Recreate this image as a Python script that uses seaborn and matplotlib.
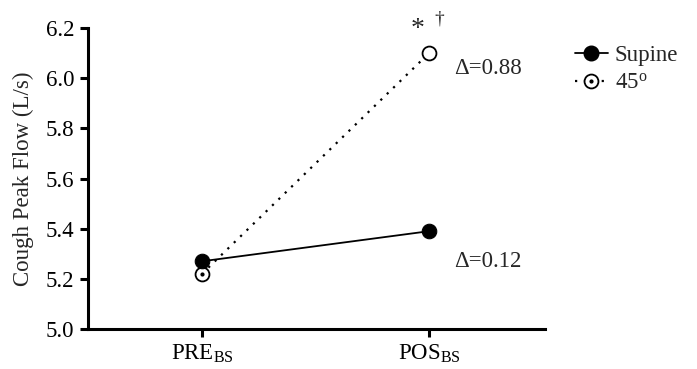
import matplotlib
matplotlib.use("Agg")
import matplotlib.pyplot as plt
from matplotlib.lines import Line2D
import seaborn as sns
import pandas as pd

timepoints = ["PRE", "POS"]
tick_labels = ["PRE$_{\\mathrm{BS}}$", "POS$_{\\mathrm{BS}}$"]
supine = [5.27, 5.39]
deg45 = [5.22, 6.10]
delta_labels = ["\u0394=0.12", "\u0394=0.88"]
y_ticks = [5.0, 5.2, 5.4, 5.6, 5.8, 6.0, 6.2]

sns.set_theme(style="ticks")
plt.rcParams["font.family"] = ["Liberation Serif", "DejaVu Serif"]
plt.rcParams["mathtext.fontset"] = "custom"
plt.rcParams["mathtext.rm"] = "Liberation Serif"
plt.rcParams["mathtext.it"] = "Liberation Serif:italic"

FS = 16.5

df = pd.DataFrame({
    "x": list(range(len(timepoints))) * 2,
    "value": supine + deg45,
    "group": ["Supine"] * len(supine) + ["45"] * len(deg45),
})

fig = plt.figure(figsize=(6.97, 3.69), dpi=100)
ax = fig.add_axes([0.1263, 0.1084, 0.782 - 0.1263, 0.924 - 0.1084])

d45 = df[df.group == "45"]
dsup = df[df.group == "Supine"]
sns.lineplot(data=d45, x="x", y="value", ax=ax, color="black", linestyle=(0, (1, 3)),
             linewidth=1.6, marker="o", markersize=10, markerfacecolor="white",
             markeredgecolor="black", markeredgewidth=1.3, zorder=2)
sns.lineplot(data=dsup, x="x", y="value", ax=ax, color="black", linestyle="-",
             linewidth=1.3, marker="o", markersize=10.5, markerfacecolor="black",
             markeredgecolor="black", zorder=3)
# center dot on the PRE 45 marker
ax.plot([d45["x"].iloc[0]], [d45["value"].iloc[0]], marker="o", markersize=2,
        color="black", linestyle="none", zorder=4)

ax.set_xlim(-0.502, 1.511)
ax.set_ylim(5.0, 6.2)
ax.set_xticks(range(len(timepoints)))
ax.set_xticklabels(tick_labels, fontsize=FS)
ax.set_yticks(y_ticks)
ax.set_yticklabels([f"{v:.1f}" for v in y_ticks], fontsize=FS)
ax.set_xlabel("")
ax.set_ylabel("Cough Peak Flow (L/s)", fontsize=FS, labelpad=8)
for s in ["top", "right"]:
    ax.spines[s].set_visible(False)
for s in ["left", "bottom"]:
    ax.spines[s].set_linewidth(2.2)
    ax.spines[s].set_color("black")
ax.tick_params(axis="both", width=2.2, length=6, color="black", labelcolor="black", pad=4)

ax.text(1.11, supine[1] - 0.12, delta_labels[0], fontsize=FS, va="center", ha="left")
ax.text(1.11, deg45[1] - 0.06, delta_labels[1], fontsize=FS, va="center", ha="left")
ax.text(0.95, 6.17, "*", fontsize=20, va="baseline", ha="center", clip_on=False)
ax.text(1.045, 6.22, "\u2020", fontsize=14, va="baseline", ha="center", clip_on=False)

handles = [
    Line2D([0], [0], color="black", linestyle="-", linewidth=1.3, marker="o",
           markersize=10.5, markerfacecolor="black"),
    (Line2D([0], [0], color="black", linestyle=(0, (1, 3)), linewidth=1.6, marker="o",
            markersize=10, markerfacecolor="white", markeredgewidth=1.3),
     Line2D([0], [0], color="black", linestyle="none", marker="o", markersize=2)),
]
fig.legend(handles, ["Supine", "45$^{\\mathrm{o}}$"], loc="upper left",
           bbox_to_anchor=(0.795, 0.935), frameon=False, fontsize=FS,
           handlelength=1.45, handletextpad=0.3, labelspacing=0.3)

fig.savefig("out.png", dpi=100)
